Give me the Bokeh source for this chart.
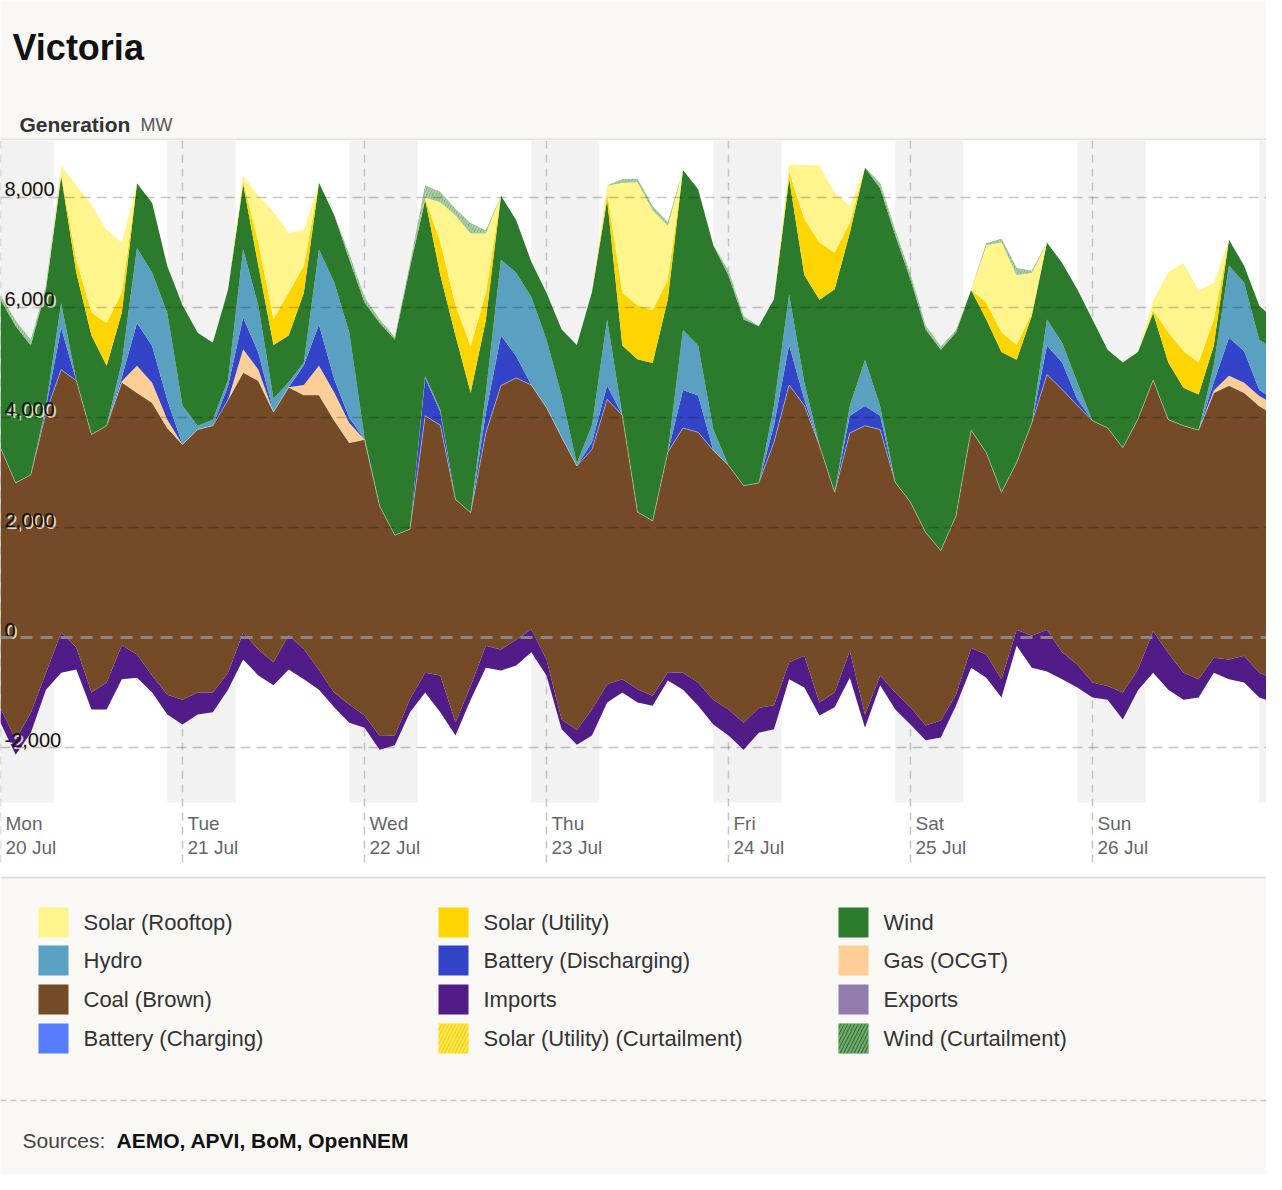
import numpy as np
from bokeh.plotting import figure
from bokeh.layouts import column
from bokeh.models import Range1d, Span
from bokeh.embed import file_html
from bokeh.resources import INLINE
from bokeh.core.properties import value

FONT = "Liberation Sans"
PAGE_W = 1266          # 1282 window minus the 8px page margin on each side
CARD = "#F9F8F5"

# one reading every 2 hours from Mon 20 Jul 00:00 (MW)
hours = np.arange(0, 169, 2)

exports = [1550, 2130, 1730, 950, 640, 580, 1310, 1310, 760, 730,
           1000, 1400, 1580, 1400, 1360, 950, 400, 690, 870, 580,
           760, 950, 1270, 1550, 1640, 2040, 1960, 1360, 1000, 1360,
           1780, 1130, 550, 600, 510, 270, 690, 1670, 1950, 1780,
           1180, 1000, 1180, 1240, 780, 950, 1240, 1580, 1780, 2040,
           1730, 1670, 760, 910, 1420, 1270, 730, 1640, 870, 1310,
           1580, 1870, 1820, 1240, 550, 730, 1090, 150, 550, 620,
           760, 910, 1090, 1130, 1490, 960, 640, 950, 1130, 1090,
           640, 760, 820, 1090, 1180]
imports = [270, 270, 360, 310, 730, 400, 310, 490, 620, 420,
           310, 360, 450, 400, 360, 310, 490, 470, 420, 620,
           550, 360, 270, 330, 220, 250, 180, 240, 360, 670,
           240, 250, 400, 380, 470, 420, 290, 180, 270, 470,
           330, 240, 240, 180, 150, 310, 420, 450, 470, 490,
           450, 440, 310, 580, 240, 270, 490, 240, 180, 310,
           310, 270, 310, 200, 360, 420, 330, 290, 580, 760,
           490, 420, 270, 250, 490, 380, 760, 670, 490, 330,
           270, 360, 490, 450, 420]
coal = [4730, 4670, 4330, 4730, 4780, 4850, 4690, 4670, 4780, 4760,
        4960, 4850, 4640, 4780, 4850, 4960, 4730, 4890, 4550, 4510,
        4620, 5000, 4950, 4760, 5020, 4180, 3640, 3090, 4670, 4550,
        4050, 3150, 3870, 4800, 4760, 4440, 4580, 5130, 4800, 4730,
        5180, 4800, 3220, 3180, 4000, 4450, 4550, 4530, 4440, 4310,
        4090, 4780, 5040, 4550, 4670, 3640, 3960, 5250, 4470, 3820,
        3730, 3510, 3090, 3250, 3960, 3670, 3400, 3040, 3870, 4640,
        4780, 4710, 4760, 4690, 4450, 4550, 4560, 4240, 4490, 4530,
        4820, 4980, 4780, 4850, 4800]
gas = [0, 0, 0, 0, 0, 0, 0, 0, 20, 490,
       360, 150, 0, 0, 0, 0, 420, 200, 0, 0,
       180, 530, 510, 360, 0, 0, 0, 0, 0, 0,
       0, 0, 0, 0, 0, 0, 0, 0, 0, 0,
       0, 0, 0, 0, 0, 0, 0, 0, 0, 0,
       0, 0, 0, 0, 0, 0, 0, 0, 0, 0,
       0, 0, 0, 0, 0, 0, 0, 0, 0, 0,
       0, 0, 0, 0, 0, 0, 0, 0, 0, 0,
       40, 180, 180, 180, 200]
battery = [0, 0, 0, 90, 760, 0, 0, 0, 70, 780,
           670, 360, 0, 0, 0, 250, 580, 310, 0, 0,
           360, 750, 240, 90, 0, 0, 0, 0, 690, 240,
           0, 0, 360, 910, 400, 0, 0, 0, 0, 130,
           250, 0, 0, 0, 0, 690, 670, 0, 0, 0,
           0, 310, 730, 110, 0, 0, 310, 360, 250, 0,
           0, 0, 0, 0, 0, 0, 0, 0, 0, 530,
           490, 110, 0, 0, 0, 0, 0, 0, 0, 0,
           150, 690, 580, 110, 90]
hydro = [0, 0, 0, 40, 450, 0, 0, 0, 270, 1360,
         1330, 1580, 710, 70, 110, 110, 1240, 850, 240, 90,
         50, 1360, 1760, 1550, 40, 0, 0, 0, 40, 40,
         0, 0, 360, 1380, 1510, 1600, 1240, 760, 50, 310,
         1200, 0, 0, 0, 0, 1090, 910, 380, 0, 0,
         0, 360, 910, 310, 0, 0, 180, 840, 180, 0,
         0, 0, 0, 0, 0, 0, 0, 0, 0, 470,
         360, 310, 0, 0, 0, 0, 0, 0, 0, 0,
         310, 1310, 1240, 910, 910]
wind = [2690, 2850, 2350, 2110, 2310, 1960, 1800, 1090, 910, 1180,
        1270, 850, 1820, 1690, 1400, 1640, 1180, 730, 980, 850,
        1270, 1220, 1220, 1330, 2450, 3330, 3560, 4760, 3200, 2450,
        2980, 2180, 1330, 1160, 960, 640, 850, 1200, 2150, 2420,
        2180, 1270, 2780, 2870, 2780, 2910, 2840, 3350, 3450, 3020,
        2850, 1930, 2110, 1950, 2650, 3690, 3150, 3490, 3960, 4490,
        4050, 3690, 3650, 3330, 2550, 2420, 2550, 1870, 1950, 1400,
        1450, 1690, 1840, 1420, 1550, 1220, 1220, 1040, 690, 650,
        360, 470, 310, 620, 550]
solar_utility = [0, 0, 0, 0, 40, 240, 420, 780, 360, 0,
                 0, 0, 0, 0, 0, 0, 70, 420, 470, 780,
                 490, 0, 0, 0, 0, 0, 0, 0, 20, 600,
                 550, 850, 490, 0, 0, 0, 0, 0, 0, 0,
                 130, 960, 980, 960, 360, 0, 0, 0, 0, 0,
                 0, 0, 130, 1020, 1040, 670, 180, 0, 0, 0,
                 0, 0, 0, 0, 0, 310, 360, 270, 50, 0,
                 0, 0, 0, 0, 0, 0, 50, 550, 670, 580,
                 470, 0, 0, 0, 0]
solar_rooftop = [0, 0, 0, 0, 150, 1350, 1960, 1690, 910, 0,
                 0, 0, 0, 0, 0, 0, 90, 850, 1950, 1090,
                 650, 0, 0, 0, 0, 0, 0, 0, 20, 730,
                 1640, 2050, 1090, 0, 0, 0, 0, 0, 0, 0,
                 130, 2000, 2240, 1820, 980, 0, 0, 0, 0, 0,
                 0, 0, 130, 980, 1400, 1090, 310, 0, 0, 0,
                 0, 0, 0, 0, 0, 1040, 1640, 1270, 730, 0,
                 0, 0, 0, 0, 0, 0, 180, 1090, 1600, 1310,
                 670, 0, 0, 0, 0]
wind_curtailment = [80, 100, 100, 50, 0, 0, 0, 0, 0, 0,
                    0, 0, 0, 0, 0, 0, 0, 0, 0, 0,
                    0, 0, 0, 90, 90, 60, 40, 60, 220, 180,
                    110, 180, 50, 0, 0, 0, 0, 0, 0, 0,
                    0, 60, 60, 70, 60, 0, 0, 0, 90, 60,
                    0, 0, 0, 0, 0, 0, 0, 0, 90, 90,
                    90, 70, 60, 40, 0, 40, 60, 130, 40, 0,
                    0, 0, 0, 0, 0, 0, 0, 0, 0, 0,
                    0, 0, 0, 0, 0]

days = ["Mon", "Tue", "Wed", "Thu", "Fri", "Sat", "Sun"]
dates = ["20 Jul", "21 Jul", "22 Jul", "23 Jul", "24 Jul", "25 Jul", "26 Jul"]
y_ticks = [-2000, 0, 2000, 4000, 6000, 8000]

legend_names = ["Solar (Rooftop)", "Solar (Utility)", "Wind",
                "Hydro", "Battery (Discharging)", "Gas (OCGT)",
                "Coal (Brown)", "Imports", "Exports",
                "Battery (Charging)", "Solar (Utility) (Curtailment)", "Wind (Curtailment)"]
colours = {"Solar (Rooftop)": "#FFF58C", "Solar (Utility)": "#FED500", "Wind": "#2C7A2B",
           "Hydro": "#5AA0C1", "Battery (Discharging)": "#3344C9", "Gas (OCGT)": "#FFCD96",
           "Coal (Brown)": "#744B26", "Imports": "#511C88", "Exports": "#927BAD",
           "Battery (Charging)": "#577CFF", "Solar (Utility) (Curtailment)": "#FED500",
           "Wind (Curtailment)": "#2C7A2B"}


def plain(fig, bg):
    fig.grid.grid_line_color = None
    fig.outline_line_color = None
    fig.background_fill_color = bg
    fig.border_fill_color = CARD


# ---------- header ----------
head = figure(width=PAGE_W, height=140, x_range=Range1d(0, PAGE_W), y_range=Range1d(140, 0),
              output_backend="svg", toolbar_location=None, min_border=0,
              x_axis_type=None, y_axis_type=None)
plain(head, CARD)
head.text(x=[12], y=[47], text=["Victoria"], text_font=value(FONT), text_font_size="36px",
          text_font_style="bold", text_color="#111111", text_baseline="alphabetic")
head.text(x=[19], y=[124], text=["Generation"], text_font=value(FONT), text_font_size="21px",
          text_font_style="bold", text_color="#333333", text_baseline="alphabetic")
head.text(x=[140], y=[124], text=["MW"], text_font=value(FONT), text_font_size="18px",
          text_color="#555555", text_baseline="alphabetic")
head.segment(x0=[0], y0=[139], x1=[PAGE_W], y1=[139], line_color="#E2E2E2", line_width=2)

# ---------- chart ----------
p = figure(width=PAGE_W, height=736, x_range=Range1d(0, 166.95), y_range=Range1d(-4345, 9036),
           output_backend="svg", toolbar_location=None, min_border=0,
           x_axis_type=None, y_axis_type=None)
plain(p, "white")

# night shading 22:00 - 07:00
night_left = [24 * d - 2 for d in range(8)]
night_right = [24 * d + 7 for d in range(8)]
p.quad(left=night_left, right=night_right, bottom=-3000, top=9036, fill_color="#F2F2F2", line_color=None)

midnights = [24 * d for d in range(7)]
p.segment(x0=midnights, y0=9036, x1=midnights, y1=-4090, line_color="#C4C4C4",
          line_width=1.5, line_dash="8 6")

# stacked areas, starting from the export line below zero
lower = -np.array(exports, dtype=float)
layers = [(imports, "Imports"), (coal, "Coal (Brown)"), (gas, "Gas (OCGT)"),
          (battery, "Battery (Discharging)"), (hydro, "Hydro"), (wind, "Wind"),
          (solar_utility, "Solar (Utility)"), (solar_rooftop, "Solar (Rooftop)")]
tops = {}
for vals, name in layers:
    upper = lower + np.array(vals, dtype=float)
    p.varea(x=hours, y1=lower, y2=upper, fill_color=colours[name])
    tops[name] = upper
    lower = upper

p.varea(x=hours, y1=lower, y2=lower + np.array(wind_curtailment, dtype=float),
        fill_color="#2C7A2B", fill_alpha=0.6, hatch_pattern="right_diagonal_line",
        hatch_color="#B5D6B2", hatch_alpha=0.8, hatch_scale=6, hatch_weight=2)

p.line(hours, tops["Coal (Brown)"], line_color="#D6E2D8", line_alpha=0.6, line_width=0.8)

for v in y_ticks:
    if v == 0:
        p.add_layout(Span(location=v, dimension="width", line_color="#8A8A8A", line_alpha=0.95,
                          line_width=3, line_dash="12 8"))
    else:
        p.add_layout(Span(location=v, dimension="width", line_color="#000000", line_alpha=0.22,
                          line_width=1.5, line_dash="10 6"))

tick_text = [f"{v:,}" for v in y_ticks]
p.text(x=[0] * len(y_ticks), y=y_ticks, text=tick_text, x_offset=6, y_offset=-6,
       text_font=value(FONT), text_font_size="20px", text_color="#F4EBDD", text_alpha=0.9,
       text_baseline="alphabetic")
p.text(x=[0] * len(y_ticks), y=y_ticks, text=tick_text, x_offset=4, y_offset=-8,
       text_font=value(FONT), text_font_size="20px", text_color="#111111",
       text_baseline="alphabetic")

p.text(x=midnights, y=[-3000] * 7, text=days, x_offset=5, y_offset=21,
       text_font=value(FONT), text_font_size="19px", text_color="#666666", text_baseline="alphabetic")
p.text(x=midnights, y=[-3000] * 7, text=dates, x_offset=5, y_offset=45,
       text_font=value(FONT), text_font_size="19px", text_color="#666666", text_baseline="alphabetic")

# ---------- legend + sources ----------
leg = figure(width=PAGE_W, height=298, x_range=Range1d(0, PAGE_W), y_range=Range1d(298, 0),
             output_backend="svg", toolbar_location=None, min_border=0,
             x_axis_type=None, y_axis_type=None)
plain(leg, CARD)
leg.segment(x0=[0], y0=[1], x1=[PAGE_W], y1=[1], line_color="#DDDDDD", line_width=2)

col_x = [38, 438, 838]
row_y = [31, 69, 108, 147]
for i, name in enumerate(legend_names):
    cx = col_x[i % 3]
    ry = row_y[i // 3]
    if "Curtailment" in name:
        leg.quad(left=[cx], right=[cx + 30], top=[ry], bottom=[ry + 30], fill_color=colours[name],
                 line_color=None, hatch_pattern="right_diagonal_line",
                 hatch_color="#FFFFFF", hatch_alpha=0.35, hatch_scale=7, hatch_weight=2)
    else:
        leg.quad(left=[cx], right=[cx + 30], top=[ry], bottom=[ry + 30],
                 fill_color=colours[name], line_color=None)
    leg.text(x=[cx + 45], y=[ry + 15], text=[name], text_font=value(FONT), text_font_size="22px",
             text_color="#333333", text_baseline="middle")

leg.segment(x0=[0], y0=[224], x1=[PAGE_W], y1=[224], line_color="#C8C8C8",
            line_width=1.5, line_dash="6 4")
leg.text(x=[22], y=[264], text=["Sources:"], text_font=value(FONT), text_font_size="21px",
         text_color="#444444", text_baseline="middle")
leg.text(x=[116], y=[264], text=["AEMO, APVI, BoM, OpenNEM"], text_font=value(FONT),
         text_font_size="21px", text_font_style="bold", text_color="#111111", text_baseline="middle")

layout = column(head, p, leg, spacing=0)
open("out.html", "w").write(file_html(layout, INLINE))
